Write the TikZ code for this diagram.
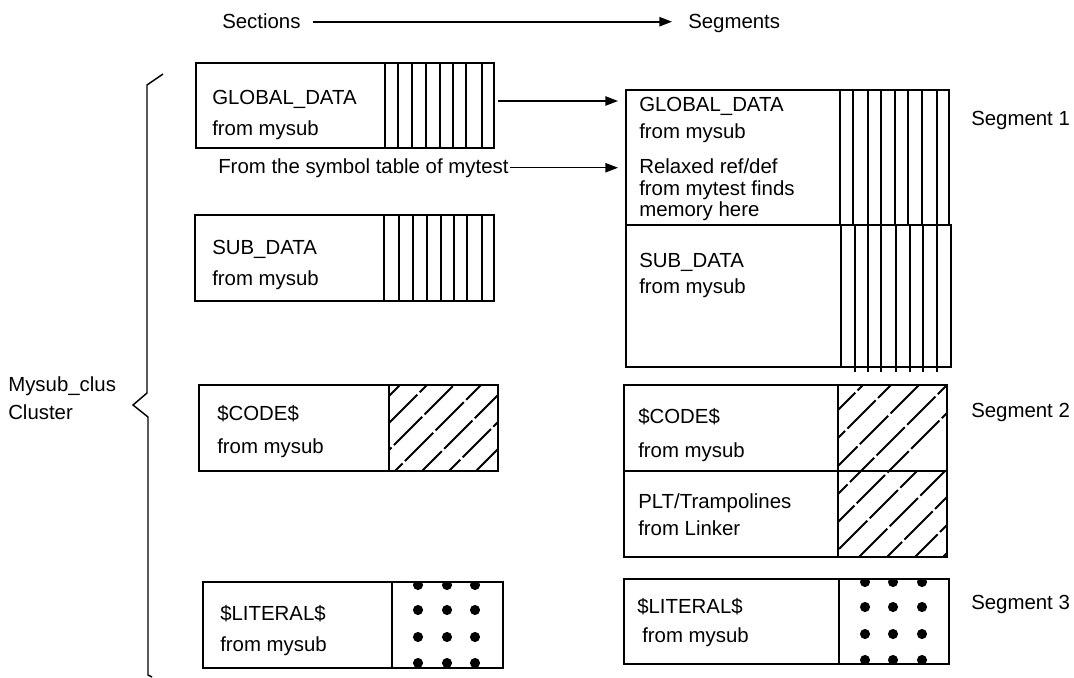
\documentclass[tikz,border=0pt]{standalone}
\usepackage{fontspec}
\setmainfont{Liberation Sans}
\usetikzlibrary{arrows.meta,fit}
\begin{document}
\begin{tikzpicture}[x=0.75pt,y=-0.75pt,
  box/.style={draw, line width=1pt, inner sep=0pt, outer sep=0pt},
  lbl/.style={anchor=base west, inner sep=0pt, font=\fontsize{15.3}{18}\selectfont},
  thinl/.style={line width=1pt},
  thickl/.style={line width=1.9pt},
  arr/.style={line width=1pt, -{Triangle[length=9.5pt,width=7pt]}},
  hatch/.style={line width=1.5pt, dash pattern=on 30pt off 2.5pt},
  dotf/.style={fill=black}]
\path[fill=white] (0,0) rectangle (1074,677);

% header
\node[lbl] (sec) at (222,29) {Sections};
\node[lbl] (seg) at (688,29) {Segments};
\draw[arr, line width=1.2pt, shorten <=9.5pt, shorten >=12pt] (sec.east) -- (sec.east -| seg.west);

% cluster brace
\node[lbl] (cl1) at (8,391) {Mysub\_clus};
\node[lbl] (cl2) at (8,419) {Cluster};
\draw[line width=1.1pt] (163,74) -- (147,85) -- (147,393) -- (133,405) -- (148,417) -- (148,675) -- (152,677);

% ---------- left column ----------
% GLOBAL_DATA
\node[box, fit={(196,63) (494,148)}] (lg) {};
\foreach \x in {385,398,412,426,440,453,466,482} \draw[thinl] (\x,63) -- (\x,148);
\node[lbl] (lgt) at (212,104) {GLOBAL\_DATA};
\node[lbl] (lgf) at (212,135) {from mysub};
\node[lbl] (sym) at (218,173) {From the symbol table of mytest};

% SUB_DATA
\node[box, fit={(195,215) (494,301)}] (ls) {};
\draw[thickl] (384,215) -- (384,301);
\foreach \x in {399,413,427,441,454,467,482} \draw[thinl] (\x,215) -- (\x,301);
\node[lbl] (lst) at (212,254) {SUB\_DATA};
\node[lbl] (lsf) at (212,285) {from mysub};

% $CODE$
\node[box, fit={(199,385) (498,471)}] (lc) {};
\draw[thinl] (389,385) -- (389,471);
\begin{scope}
\clip (389,385) rectangle (498,471);
\foreach \c/\p in {785/0,812/14,839/5,866/22,893/9,920/18,947/3}
  \draw[hatch, dash phase=\p pt] ({\c-471},471) -- ({\c-385},385);
\end{scope}
\node[lbl] (lct) at (217,420) {\$CODE\$};
\node[lbl] (lcf) at (217,453) {from mysub};

% $LITERAL$
\node[box, fit={(203,582) (503,668)}] (ll) {};
\begin{scope}
\clip (392,582) rectangle (503,668);
\foreach \x in {418,447,475} \foreach \y in {585,610,637,663} \fill[dotf] (\x,\y) circle (3.8pt);
\end{scope}
\draw[thickl] (392,582) rectangle (503,668);
\node[lbl] (llt) at (220,620) {\$LITERAL\$};
\node[lbl] (llf) at (220,651) {from mysub};

% ---------- right column ----------
% Segment 1 upper
\node[box, fit={(626,90) (949,225)}] (rg) {};
\draw[thinl] (840,90) -- (840,225);
\foreach \x in {853,868,881,895,908,922,937} \draw[thinl] (\x,90) -- (\x,225);
\node[lbl] (rgt) at (639,111) {GLOBAL\_DATA};
\node[lbl] (rgf) at (639,138) {from mysub};
\node[lbl] (rr1) at (639,173) {Relaxed ref/def};
\node[lbl] (rr2) at (639,195) {from mytest finds};
\node[lbl] (rr3) at (639,216) {memory here};

% Segment 1 lower
\node[box, fit={(626,225) (951,367)}] (rs) {};
\draw[thickl] (841,225) -- (841,367);
\foreach \x in {855,868,881,896,910,923,937} \draw[thinl] (\x,225) -- (\x,372);
\node[lbl] (rst) at (639,267) {SUB\_DATA};
\node[lbl] (rsf) at (639,293) {from mysub};

% Segment 2
\node[box, fit={(624,385) (947,471)}] (rc) {};
\node[box, fit={(624,471) (947,557)}] (rp) {};
\draw[thickl] (624,471) -- (947,471);
\draw[thinl] (838,385) -- (838,557);
\begin{scope}
\clip (838,385) rectangle (947,471);
\foreach \c/\p in {1192/6,1220/0,1248/12,1276/20,1304/4,1332/16,1360/9}
  \draw[hatch, dash phase=\p pt] ({\c-471},471) -- ({\c-385},385);
\end{scope}
\begin{scope}
\clip (838,471) rectangle (947,557);
\foreach \c/\p in {1304/3,1332/18,1360/8,1388/24,1416/0,1444/14,1472/6,1500/20}
  \draw[hatch, dash phase=\p pt] ({\c-557},557) -- ({\c-471},471);
\end{scope}
\draw[thickl] (838,471) -- (947,471);
\node[lbl] (rct) at (638,423) {\$CODE\$};
\node[lbl] (rcf) at (638,457) {from mysub};
\node[lbl] (rpt) at (638,508) {PLT/Trampolines};
\node[lbl] (rpf) at (638,535) {from Linker};

% Segment 3
\node[box, fit={(624,579) (949,664)}] (rl) {};
\begin{scope}
\clip (839,579) rectangle (949,664);
\foreach \x in {865,893,922} \foreach \y in {582,607,634,660} \fill[dotf] (\x,\y) circle (3.8pt);
\end{scope}
\draw[thickl] (839,579) rectangle (949,664);
\node[lbl] (rlt) at (637,613) {\$LITERAL\$};
\node[lbl] (rlf) at (642,642) {from mysub};

% segment labels
\node[lbl] (s1) at (971,125) {Segment 1};
\node[lbl] (s2) at (971,417) {Segment 2};
\node[lbl] (s3) at (971,609) {Segment 3};

% mapping arrows
\coordinate (ya) at (0,101);
\draw[arr, shorten <=3pt, shorten >=6pt] (lg.east |- ya) -- (rg.west |- ya);
\draw[arr, shorten <=1pt, shorten >=6pt] (sym.east) -- (sym.east -| rg.west);
\end{tikzpicture}
\end{document}
